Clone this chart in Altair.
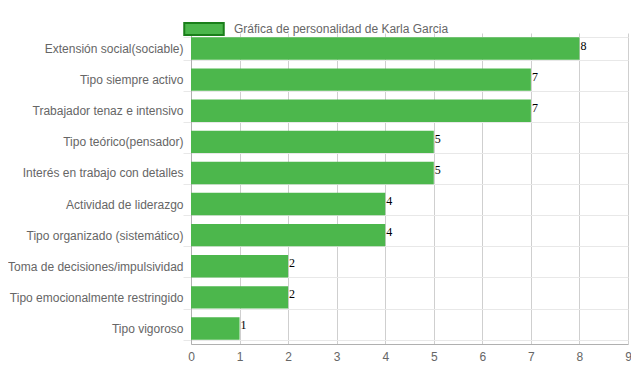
import altair as alt
import pandas as pd

categories = [
    "Extensión social(sociable)",
    "Tipo siempre activo",
    "Trabajador tenaz e intensivo",
    "Tipo teórico(pensador)",
    "Interés en trabajo con detalles",
    "Actividad de liderazgo",
    "Tipo organizado (sistemático)",
    "Toma de decisiones/impulsividad",
    "Tipo emocionalmente restringido",
    "Tipo vigoroso",
]
values = [8, 7, 7, 5, 5, 4, 4, 2, 2, 1]
series_name = "Gráfica de personalidad de Karla Garcia"
x_ticks = list(range(0, 10))

df = pd.DataFrame({"cat": categories, "val": values, "series": [series_name] * len(values)})

y_enc = alt.Y(
    "cat:N",
    sort=categories,
    title=None,
    scale=alt.Scale(paddingInner=0.28, paddingOuter=0.14),
    axis=alt.Axis(
        tickBand="extent",
        grid=True,
        gridColor="#e8e8e8",
        tickColor="#e8e8e8",
        tickSize=8,
        labelPadding=0,
        labelFont="Liberation Sans",
        labelFontSize=12,
        labelColor="#666666",
        domainColor="#b0b0b0",
        labelLimit=300,
    ),
)

x_enc = alt.X(
    "val:Q",
    title=None,
    scale=alt.Scale(domain=[0, 9], nice=False),
    axis=alt.Axis(
        values=x_ticks,
        grid=True,
        gridColor="#cfcfcf",
        ticks=False,
        labelPadding=7,
        labelFont="Liberation Sans",
        labelFontSize=12,
        labelColor="#666666",
        domainColor="#b0b0b0",
        labelFlush=False,
    ),
)

bars = alt.Chart(df).mark_bar(stroke=None).encode(
    x=x_enc,
    y=y_enc,
    color=alt.Color(
        "series:N",
        scale=alt.Scale(range=["#4cb74c"]),
        legend=alt.Legend(
            title=None,
            orient="none",
            legendX=-8,
            legendY=-25,
            symbolType="M-1,-0.3H1V0.3H-1Z",
            symbolSize=1560,
            symbolStrokeColor="#1a7f1a",
            symbolStrokeWidth=2,
            symbolOpacity=1,
            labelFont="Liberation Sans",
            labelFontSize=12,
            labelColor="#666666",
            labelOffset=9,
            padding=0,
            labelLimit=400,
        ),
    ),
)

labels = alt.Chart(df).mark_text(
    align="left", baseline="middle", dx=1, dy=-3, font="Liberation Serif", fontSize=12, color="#000000"
).encode(
    x=alt.X("val:Q"),
    y=alt.Y("cat:N", sort=categories),
    text=alt.Text("val:Q"),
)

chart = (
    alt.layer(bars, labels)
    .properties(
        width=437,
        height=311,
        autosize=alt.AutoSizeParams(type="none"),
        padding={"left": 183, "top": 25, "right": 3, "bottom": 18},
    )
    .configure_view(stroke=None)
)

chart.save("out.html", embed_options={"renderer": "svg", "actions": False})
